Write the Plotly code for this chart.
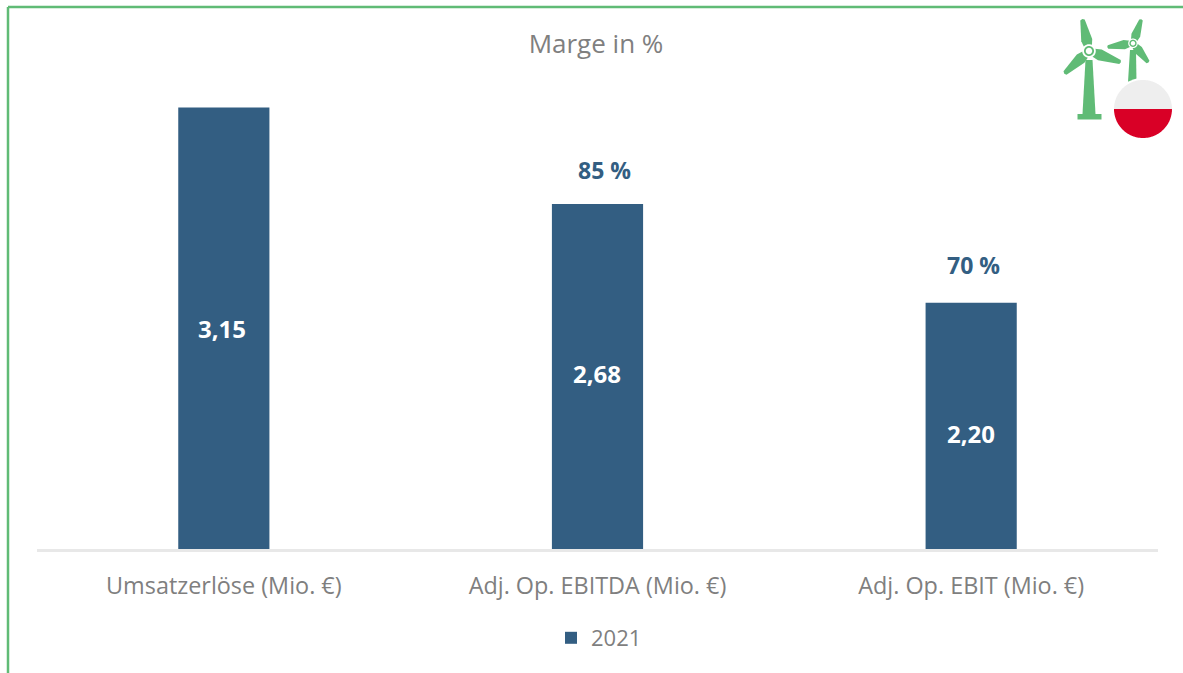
import numpy as np
import plotly.graph_objects as go

categories = ["Umsatzerlöse (Mio. €)", "Adj. Op. EBITDA (Mio. €)", "Adj. Op. EBIT (Mio. €)"]
series_name = "2021"
values = [3.15, 2.68, 2.20]
value_labels = ["3,15", "2,68", "2,20"]
margin_labels = ["", "85 %", "70 %"]
title_text = "Marge in %"
axis_min = 1.0

W, H = 1183, 673
L, R, T, B = 37, 25, 80, 124
PW, PH = W - L - R, H - T - B
BAR = "#335E82"
GREEN = "#60BB76"
GRAY = "#7F7F7F"
FONT = "Open Sans, sans-serif"


def px(x):
    return (x - L) / PW


def py(y):
    return 1 - (y - T) / PH


def poly(points, fill, line=None, lw=0):
    path = "M " + " L ".join(f"{px(x):.5f},{py(y):.5f}" for x, y in points) + " Z"
    return dict(type="path", xref="paper", yref="paper", path=path, fillcolor=fill,
                line=dict(color=line or fill, width=lw), layer="above")


def circle_pts(cx, cy, r, a0=0, a1=360, n=72):
    return [(cx + r * np.cos(np.radians(a)), cy + r * np.sin(np.radians(a)))
            for a in np.linspace(a0, a1, n)]


def blade(cx, cy, tx, ty, w):
    d = np.array([tx - cx, ty - cy], float)
    n = np.array([-d[1], d[0]]) / np.hypot(*d)
    p = np.array([cx, cy], float)
    t = np.array([tx, ty], float)
    return [tuple(p + n * w * 0.5), tuple(p + d * 0.35 + n * w),
            tuple(t + n * w * 0.4), tuple(t + d * 0.03), tuple(t - n * w * 0.4),
            tuple(p + d * 0.35 - n * w), tuple(p - n * w * 0.5)]


shapes = [
    # green frame (top and left only)
    dict(type="line", xref="paper", yref="paper", x0=px(8), x1=px(W), y0=py(7), y1=py(7),
         line=dict(color=GREEN, width=2.5), layer="above"),
    dict(type="line", xref="paper", yref="paper", x0=px(8), x1=px(8), y0=py(7), y1=py(H),
         line=dict(color=GREEN, width=2.5), layer="above"),
    # large turbine
    poly([(1085.5, 60), (1092.5, 60), (1095.5, 114), (1082.5, 114)], GREEN),
    poly([(1077.5, 114), (1101.5, 114), (1101.5, 119.5), (1077.5, 119.5)], GREEN),
    poly(blade(1089, 51, 1082.5, 20, 5.6), GREEN),
    poly(blade(1089, 51, 1120, 62, 5.6), GREEN),
    poly(blade(1089, 51, 1065, 73, 5.6), GREEN),
    poly(circle_pts(1089, 51, 6.8), "#FFFFFF"),
    poly(circle_pts(1089, 51, 5.0), GREEN),
    poly(circle_pts(1089, 51, 3.2), "#FFFFFF"),
    # small turbine
    poly([(1130, 50), (1136, 50), (1136.5, 82), (1128, 82)], GREEN),
    poly(blade(1133, 43.3, 1141, 20, 4.6), GREEN),
    poly(blade(1133, 43.3, 1108, 47, 4.6), GREEN),
    poly(blade(1133, 43.3, 1148, 62, 4.6), GREEN),
    poly(circle_pts(1133, 43.3, 4.8), "#FFFFFF"),
    poly(circle_pts(1133, 43.3, 3.6), GREEN),
    poly(circle_pts(1133, 43.3, 2.2), "#FFFFFF"),
    # flag
    poly(circle_pts(1143, 109, 31), "#FFFFFF"),
    poly(circle_pts(1143, 109, 29, 180, 360), "#EEEEEE"),
    poly(circle_pts(1143, 109, 29, 0, 180), "#D90026"),
]

margin_shift = [0, 7, 2.5]
margin_up = [0, 34, 38]
label_dx = [-2, -1, 0]
label_dy = [0, 3, -8]
annotations = [
    dict(x=c, y=v, xref="x", yref="y", text=f"<b>{t}</b>", showarrow=False, yshift=u, xshift=s,
         font=dict(family=FONT, size=23, color=BAR))
    for c, v, t, s, u in zip(categories, values, margin_labels, margin_shift, margin_up) if t
] + [
    dict(x=c, y=(v + axis_min) / 2, xref="x", yref="y", text=f"<b>{t}</b>", showarrow=False,
         xshift=dx, yshift=dy, font=dict(family=FONT, size=24, color="#FFFFFF"))
    for c, v, t, dx, dy in zip(categories, values, value_labels, label_dx, label_dy)
]

fig = go.Figure(go.Bar(
    x=categories, y=values, name=series_name, marker=dict(color=BAR, line=dict(width=0)),
    hoverinfo="x+y", showlegend=True,
))
fig.update_layout(
    width=W, height=H, autosize=False,
    margin=dict(l=L, r=R, t=T, b=B, pad=0),
    paper_bgcolor="#FFFFFF", plot_bgcolor="#FFFFFF",
    font=dict(family=FONT, color=GRAY, size=23.4),
    title=dict(text=title_text, x=(596 / W), xanchor="center", y=1 - 44 / H, yanchor="middle",
               font=dict(family=FONT, size=26, color=GRAY)),
    bargap=0.756,
    xaxis=dict(type="category", showgrid=False, showline=True, linecolor="#E8E8E8", linewidth=3,
               ticks="", tickfont=dict(family=FONT, size=23.4, color=GRAY), automargin=False,
               ticklabelstandoff=14),
    yaxis=dict(range=[axis_min, axis_min + (549 - T) / 205.3], visible=False, showgrid=False,
               zeroline=False),
    showlegend=True,
    legend=dict(orientation="h", x=px(599), xanchor="center", y=py(638), yanchor="middle",
                font=dict(family=FONT, size=22, color=GRAY), bgcolor="rgba(0,0,0,0)"),
    shapes=shapes,
    annotations=annotations,
)
fig.write_html("out.html", config=dict(displayModeBar=False),
               post_script="document.body.style.margin='0';document.body.style.overflow='hidden';")
